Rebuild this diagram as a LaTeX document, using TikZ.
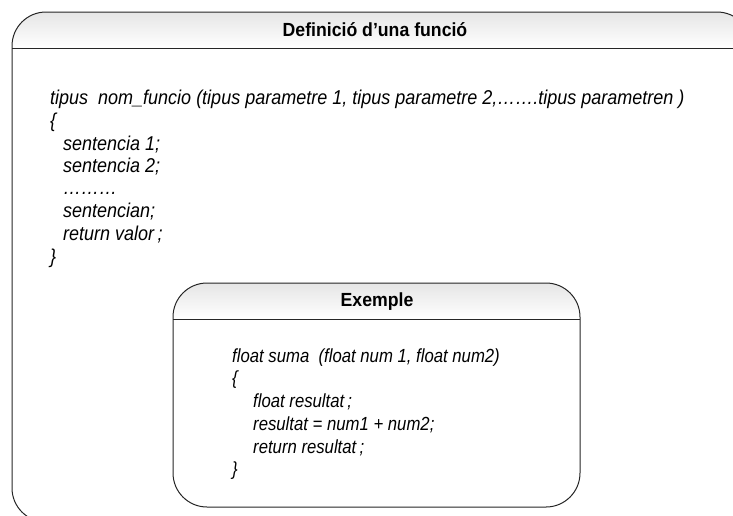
\documentclass[tikz,border=0pt]{standalone}
\usepackage{fontspec}
\setmainfont{Liberation Sans}
\newfontfamily\codefont[FakeStretch=0.9]{Liberation Sans}
\newfontfamily\icodefont[FakeStretch=0.88]{Liberation Sans}
\newfontfamily\headfont[FakeStretch=0.93]{Liberation Sans}
\begin{document}
\begin{tikzpicture}[x=1pt,y=-1pt]
\tikzset{
  frame/.style={draw=black!85, line width=1pt, rounded corners=34},
  rule/.style={draw=black!85, line width=1pt},
  headshade/.style={top color=black!10, bottom color=white, draw=none},
  code/.style={anchor=base west, inner sep=0pt, font=\codefont\fontsize{20}{22}\selectfont\itshape},
  icode/.style={anchor=base west, inner sep=0pt, font=\icodefont\fontsize{19}{22}\selectfont\itshape},
  title/.style={anchor=base, inner sep=0pt, font=\headfont\fontsize{19}{22}\selectfont\bfseries},
}
\useasboundingbox (0,0) rectangle (733,515);
\clip (0,0) rectangle (733,515);
% outer frame
\begin{scope}
  \clip[rounded corners=34] (12,12) rectangle (751,522);
  \shade[headshade] (12,12) rectangle (751,48);
\end{scope}
\draw[frame] (12,12) rectangle (751,522);
\draw[rule] (12,48) -- (751,48);
% inner frame
\fill[white, rounded corners=34] (173,283) rectangle (580,507);
\begin{scope}
  \clip[rounded corners=34] (173,283) rectangle (580,507);
  \shade[headshade] (173,283) rectangle (580,319);
\end{scope}
\draw[frame] (173,283) rectangle (580,507);
\draw[rule] (173,319) -- (580,319);
% outer texts
\node[title] (t1) at (375,36) {Definició d’una funció};
\node[code] (l1) at (50,104) {tipus\ \ nom\_funcio (tipus parametre 1, tipus parametre 2,…….tipus parametren )};
\node[code] (l2) at (50,127) {\{};
\node[code] (l3) at (63,150) {sentencia 1;};
\node[code] (l4) at (63,172) {sentencia 2;};
\node[code] (l5) at (63,194) {………};
\node[code] (l6) at (63,217) {sentencian;};
\node[code] (l7) at (63,240) {return valor\,;};
\node[code] (l8) at (50,263) {\}};
% inner texts
\node[title] (t2) at (377,306) {Exemple};
\node[icode] (e1) at (232,362) {float suma\ \ (float num 1, float num2)};
\node[icode] (e2) at (232,384) {\{};
\node[icode] (e3) at (253,407) {float resultat\,;};
\node[icode] (e4) at (253,430) {resultat = num1 + num2;};
\node[icode] (e5) at (253,453) {return resultat\,;};
\node[icode] (e6) at (232,475) {\}};
\end{tikzpicture}
\end{document}
